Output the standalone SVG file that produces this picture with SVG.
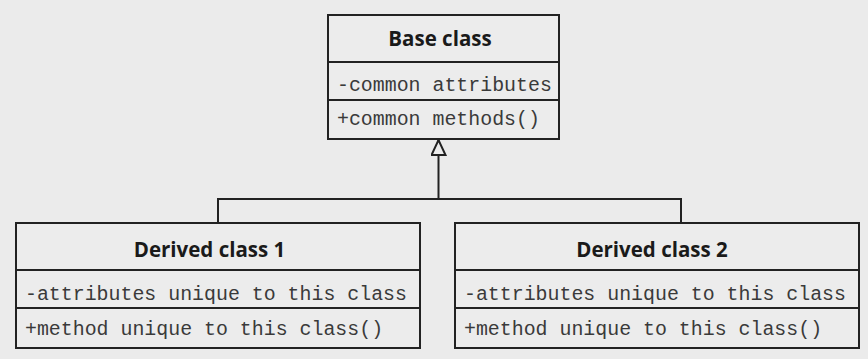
<svg xmlns="http://www.w3.org/2000/svg" width="868" height="359" viewBox="0 0 868 359">
<style>
.box{fill:#ececec;stroke:#222;stroke-width:2}
.div{stroke:#222;stroke-width:2}
.title{font-family:"Open Sans","DejaVu Sans",sans-serif;font-weight:bold;font-size:20.5px;fill:#1a1a1a;text-anchor:middle}
.mono{font-family:"Liberation Mono","Courier New",monospace;font-size:19.9px;fill:#3a3a3a}
.conn{fill:none;stroke:#222;stroke-width:2}
</style>
<defs>
<marker id="tri" markerWidth="18" markerHeight="18" refX="16" refY="8" orient="auto" markerUnits="userSpaceOnUse">
<path d="M1,1 L16,8 L1,15 Z" fill="#ececec" stroke="#222" stroke-width="2"/>
</marker>
</defs>
<rect width="868" height="359" fill="#ebebeb"/>
<g id="connectors">
<path class="conn" d="M218,223 V199 H681 V223"/>
<path class="conn" d="M438.5,199 V140" marker-end="url(#tri)"/>
</g>
<g id="base">
<rect class="box" x="328" y="15" width="231" height="124"/>
<line class="div" x1="328" y1="62" x2="559" y2="62"/>
<line class="div" x1="328" y1="100" x2="559" y2="100"/>
<text class="title" x="440" y="46">Base class</text>
<text class="mono" x="337" y="91">-common attributes</text>
<text class="mono" x="337" y="125">+common methods()</text>
</g>
<g id="derived1">
<rect class="box" x="16" y="223" width="404" height="125"/>
<line class="div" x1="16" y1="270" x2="420" y2="270"/>
<line class="div" x1="16" y1="308" x2="420" y2="308"/>
<text class="title" x="209.5" y="257">Derived class 1</text>
<text class="mono" x="25" y="300">-attributes unique to this class</text>
<text class="mono" x="25" y="335">+method unique to this class()</text>
</g>
<g id="derived2">
<rect class="box" x="455" y="223" width="404" height="125"/>
<line class="div" x1="455" y1="270" x2="859" y2="270"/>
<line class="div" x1="455" y1="308" x2="859" y2="308"/>
<text class="title" x="652" y="257">Derived class 2</text>
<text class="mono" x="464" y="300">-attributes unique to this class</text>
<text class="mono" x="464" y="335">+method unique to this class()</text>
</g>
</svg>
